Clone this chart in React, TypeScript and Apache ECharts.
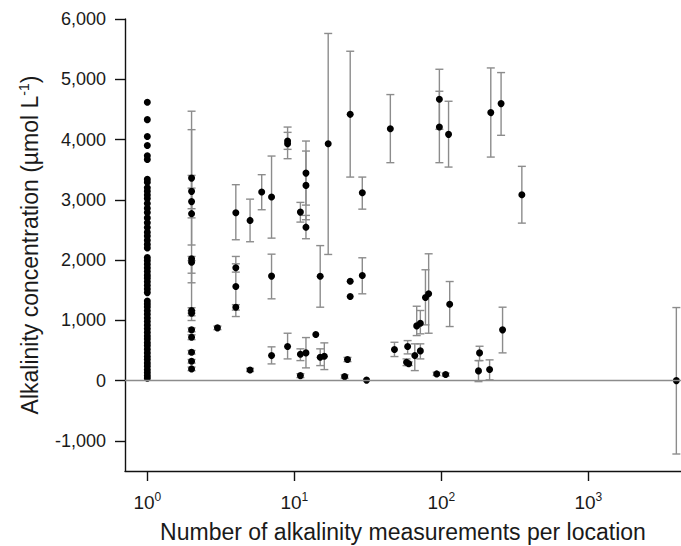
import React, { useEffect, useRef } from "react";
import * as echarts from "echarts";

// Locations with a single measurement (n = 1), alkalinity values
const singleValues = [
  4620, 4330, 4050, 3900, 3730, 3670, 3340, 3290, 3200, 3140, 3080, 3020, 2940, 2860, 2790,
  2700, 2620, 2540, 2460, 2400, 2330, 2260, 2200, 2040, 1990, 1930, 1870, 1810, 1750, 1700,
  1640, 1580, 1520, 1460, 1320, 1270, 1220, 1160, 1100, 1040, 980, 920, 860, 800, 740, 690,
  630, 580, 520, 460, 400, 350, 290, 240, 180, 130, 80, 40,
];

// Locations with several measurements
const measureCount = [
  2, 2, 2, 2, 2, 2, 2, 2, 2, 2, 2, 2, 2,
  3,
  4, 4, 4, 4,
  5, 5,
  6,
  7, 7, 7,
  9, 9, 9,
  11, 11, 11,
  12, 12, 12, 12,
  14,
  15, 15,
  16,
  17,
  22, 23,
  24, 24, 24,
  29, 29,
  31,
  45, 48, 58, 60, 59, 66, 68, 72, 72, 78, 82, 93,
  97, 97, 107, 112, 114,
  179, 182, 213, 217, 255, 261, 353,
  3970,
];
const meanValue = [
  3360, 3140, 2970, 2770, 2020, 1965, 1163, 1118, 842, 719, 470, 321, 194,
  875,
  2786, 1872, 1561, 1218,
  2658, 177,
  3128,
  3045, 1734, 415,
  3975, 3931, 565,
  2796, 437, 83,
  3443, 3239, 2546, 460,
  764,
  1730, 387,
  404,
  3930,
  66, 349,
  4418, 1649, 1395,
  3118, 1744,
  8,
  4180, 515, 304, 280, 565, 415, 908, 952, 493, 1379, 1440, 111,
  4668, 4208, 100, 4086, 1268,
  161, 460, 183, 4447, 4596, 842, 3085,
  0,
];
const errorLow = [
  2250, 2852, 1782, 2700, 1623, 997, 1120, 1075, 810, 680, 440, 290, 165,
  845,
  2337, 1800, 1063, 1170,
  2304, 150,
  2835,
  2364, 1357, 277,
  3682, 3837, 360,
  2630, 332, 50,
  2912, 2669, 2354, 211,
  null,
  1218, 249,
  183,
  2093,
  40, 315,
  3377, null, null,
  2845, 1440,
  null,
  3616, 399, 249, 250, 443, 166, 747, 776, 360, 925, 786, 85,
  4169, 3616, 75, 3543, 897,
  -17, 332, 12, 3709, 4070, 460, 2613,
  -1218,
];
const errorHigh = [
  4470, 3405, 4164, 3194, 2060, 1990, 1210, 1160, 875, 760, 500, 350, 225,
  905,
  3251, 1938, 2060, 1260,
  3011, 205,
  3417,
  3726, 2098, 560,
  4207, 4119, 786,
  2957, 527, 115,
  3975, 3809, 2741, 714,
  null,
  2240, 527,
  626,
  5760,
  95, 385,
  5465, null, null,
  3377, 2038,
  null,
  4746, 636, 360, 310, 664, 610, 1234, 1163, 610, 1839, 2104, 140,
  5166, 4801, 125, 4635, 1644,
  332, 570, 344, 5188, 5111, 1218, 3555,
  1212,
];

const yTicks = [-1000, 0, 1000, 2000, 3000, 4000, 5000, 6000];
const xTicks = [1, 10, 100, 1000];

const FONT = "'Liberation Sans', Arial, sans-serif";

export default function App() {
  const ref = useRef<HTMLDivElement>(null);

  useEffect(() => {
    if (!ref.current) return;
    const chart = echarts.init(ref.current, null, { renderer: "svg" });

    const points: number[][] = singleValues.map((v) => [1, v]);
    measureCount.forEach((n, i) => points.push([n, meanValue[i]]));

    const bars: number[][] = [];
    measureCount.forEach((n, i) => {
      const lo = errorLow[i];
      const hi = errorHigh[i];
      if (lo !== null && hi !== null) bars.push([n, lo as number, hi as number]);
    });

    const option: any = {
      animation: false,
      textStyle: { fontFamily: FONT },
      grid: { left: 125, right: 0, top: 19, bottom: 75, containLabel: false, outerBoundsMode: "none" },
      xAxis: {
        type: "log",
        logBase: 10,
        min: 0.705,
        max: 4270,
        name: "Number of alkalinity measurements per location",
        nameLocation: "middle",
        nameGap: 49,
        nameTextStyle: { fontSize: 23, lineHeight: 24, color: "#1a1a1a", fontFamily: FONT },
        axisLine: { show: true, onZero: false, lineStyle: { color: "#111", width: 1.4 } },
        axisTick: { show: true, length: 10, customValues: xTicks, lineStyle: { color: "#111", width: 1.4 } },
        axisLabel: {
          customValues: xTicks,
          margin: 20,
          color: "#1a1a1a",
          formatter: (v: number) => {
            const e = Math.round(Math.log10(v));
            return "{b|10}{s|" + e + "}";
          },
          rich: {
            b: { fontSize: 19, lineHeight: 22, fontFamily: FONT, color: "#1a1a1a" },
            s: { fontSize: 12, lineHeight: 12, verticalAlign: "top", fontFamily: FONT, color: "#1a1a1a" },
          },
        },
        splitLine: { show: false },
        minorTick: { show: false },
      },
      yAxis: {
        type: "value",
        min: -1500,
        max: 6000,
        name: "{a|Alkalinity concentration (µmol L}{s|-1}{a|)}",
        nameLocation: "middle",
        nameRotate: 90,
        nameGap: 82,
        nameTextStyle: {
          rich: {
            a: { fontSize: 23, lineHeight: 26, fontFamily: FONT, color: "#1a1a1a" },
            s: { fontSize: 14, lineHeight: 14, verticalAlign: "top", fontFamily: FONT, color: "#1a1a1a" },
          },
        },
        axisLine: { show: true, onZero: false, lineStyle: { color: "#111", width: 1.4 } },
        axisTick: { show: true, length: 10, customValues: yTicks, lineStyle: { color: "#111", width: 1.4 } },
        axisLabel: {
          customValues: yTicks,
          margin: 19,
          fontSize: 18,
          color: "#1a1a1a",
          fontFamily: FONT,
          formatter: (v: number) => v.toLocaleString("en-US"),
        },
        splitLine: { show: false },
      },
      series: [
        {
          type: "custom",
          name: "range",
          coordinateSystem: "cartesian2d",
          data: bars,
          encode: { x: 0, y: [1, 2] },
          z: 2,
          silent: true,
          renderItem: (params: any, api: any) => {
            const x = api.value(0);
            const top = api.coord([x, api.value(2)]);
            const bot = api.coord([x, api.value(1)]);
            const hw = 4;
            const style = { stroke: "#8c8c8c", lineWidth: 1.4, fill: null };
            return {
              type: "group",
              children: [
                { type: "line", shape: { x1: top[0], y1: top[1], x2: bot[0], y2: bot[1] }, style },
                { type: "line", shape: { x1: top[0] - hw, y1: top[1], x2: top[0] + hw, y2: top[1] }, style },
                { type: "line", shape: { x1: bot[0] - hw, y1: bot[1], x2: bot[0] + hw, y2: bot[1] }, style },
              ],
            };
          },
          markLine: {
            silent: true,
            symbol: ["none", "none"],
            label: { show: false },
            lineStyle: { color: "#8c8c8c", type: "solid", width: 1.4 },
            data: [{ yAxis: 0 }],
          },
        },
        {
          type: "scatter",
          name: "mean",
          data: points,
          symbol: "circle",
          symbolSize: 7,
          itemStyle: { color: "#000", opacity: 1 },
          z: 3,
        },
      ],
    };

    chart.setOption(option);
    return () => chart.dispose();
  }, []);

  return (
    <div
      ref={ref}
      style={{ position: "absolute", left: 0, top: 0, width: 681, height: 546, background: "#fff" }}
    />
  );
}
